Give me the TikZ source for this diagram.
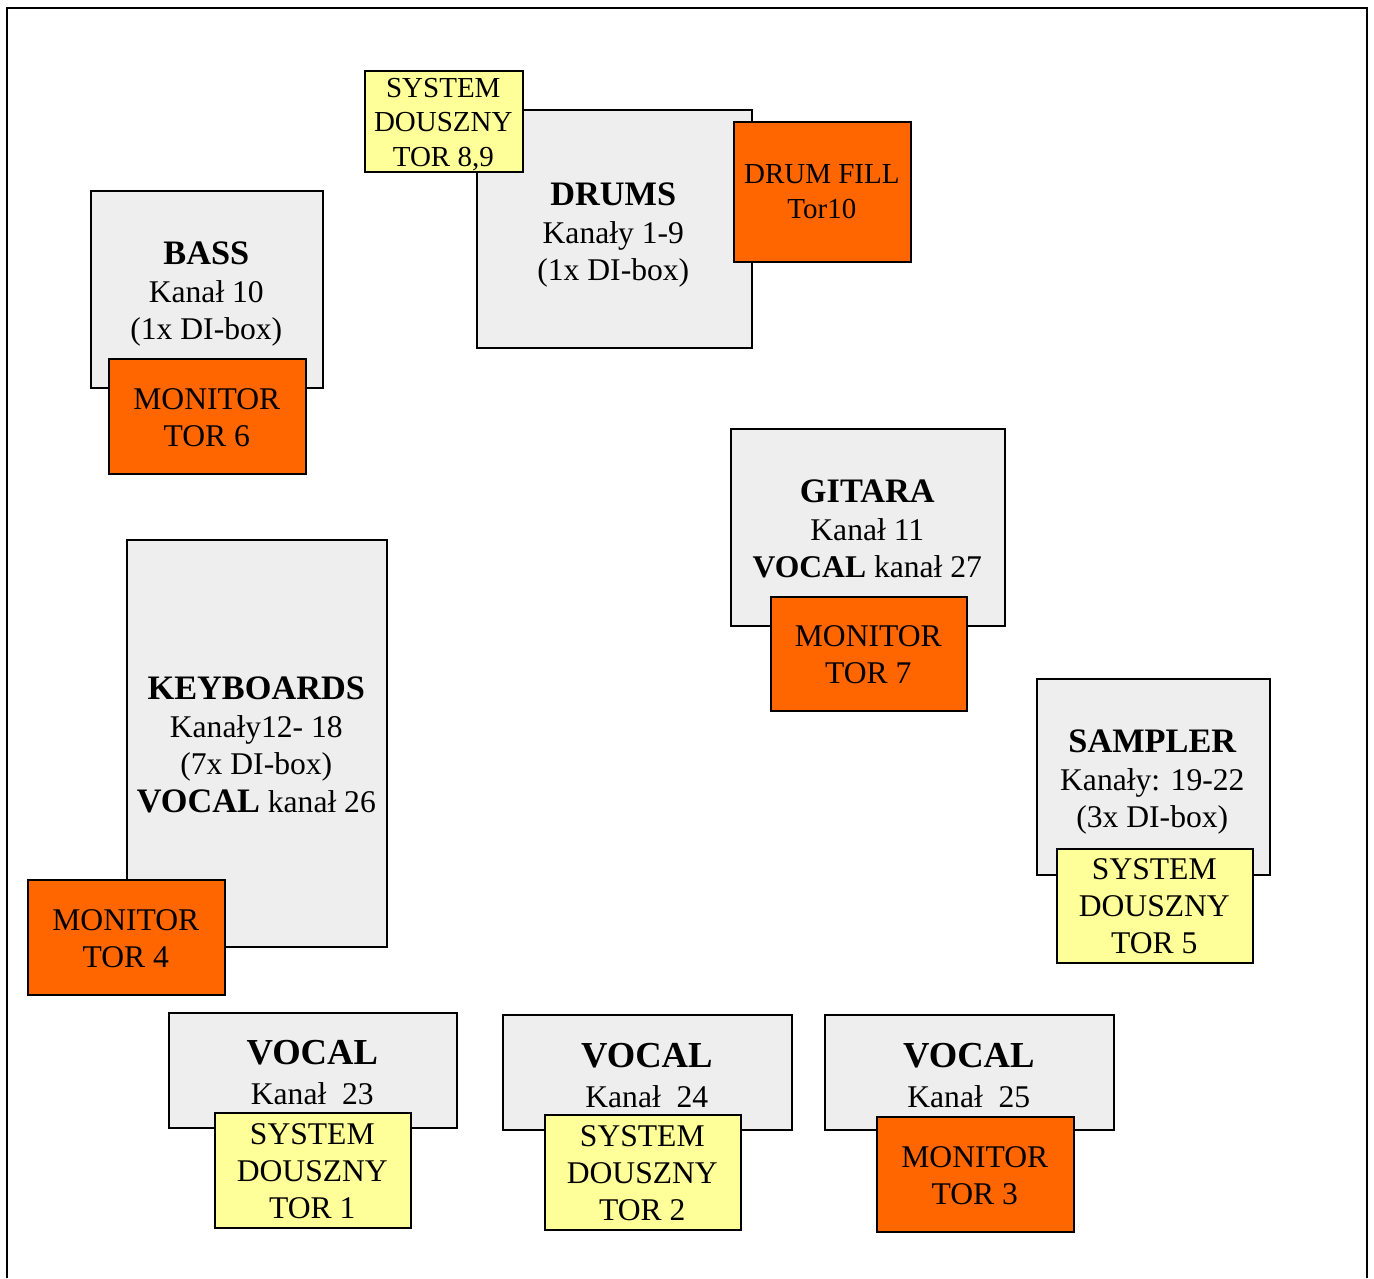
\documentclass[tikz,border=0pt]{standalone}
\usepackage{fontspec}
\setmainfont{Liberation Serif}
\definecolor{boxgrey}{HTML}{EEEEEE}
\definecolor{boxorange}{HTML}{FF6600}
\definecolor{boxyellow}{HTML}{FFFF99}
\newcommand\boxtitle[1]{{\fontsize{34.3}{37.5}\selectfont\bfseries #1}}
\newcommand\voctitle[1]{{\fontsize{36.6}{40}\selectfont\bfseries #1}}
\tikzset{
  box/.style={draw=black, line width=1.5pt, inner sep=0pt, anchor=north west},
  greybox/.style={box, fill=boxgrey},
  orangebox/.style={box, fill=boxorange},
  yellowbox/.style={box, fill=boxyellow},
  txt/.style={align=center, inner sep=0pt, font=\fontsize{31.6}{37.5}\selectfont},
  tagtxt/.style={align=center, inner sep=0pt, font=\fontsize{31.6}{37}\selectfont},
  smalltxt/.style={align=center, inner sep=0pt, font=\fontsize{29}{34.5}\selectfont},
  voctxt/.style={align=center, inner sep=0pt, font=\fontsize{31.6}{40}\selectfont},
}
\begin{document}
\begin{tikzpicture}[x=1pt,y=-1pt]
\useasboundingbox (0,0) rectangle (1374,1278);
% outer frame
\coordinate (fbl) at (7,1278);
\coordinate (ftl) at (7,8);
\coordinate (ftr) at (1367,8);
\coordinate (fbr) at (1367,1278);
\draw[line width=1.5pt] (fbl) -- (ftl) -- (ftr) -- (fbr);

\begin{scope}[shift={(-0.7,-0.7)}]
% BASS
\node[greybox, minimum width=232, minimum height=197] (bass) at (91,191) {};
\node[txt] (basst) at (207,295) {\boxtitle{BASS}\\Kanał 10\\(1x DI-box)};
\node[orangebox, minimum width=197, minimum height=115] (mon6) at (109,359) {};
\node[tagtxt] (mon6t) at (207.5,418) {MONITOR\\TOR 6};

% DRUMS
\node[greybox, minimum width=275, minimum height=238] (drums) at (477,110) {};
\node[txt] (drumst) at (614,236) {\boxtitle{DRUMS}\\Kanały 1-9\\(1x DI-box)};
\node[yellowbox, minimum width=158, minimum height=101] (sys89) at (365,71) {};
\node[smalltxt] (sys89t) at (444,125) {SYSTEM\\DOUSZNY\\TOR 8,9};
\node[orangebox, minimum width=177, minimum height=140] (drumfill) at (734,122) {};
\node[smalltxt] (drumfillt) at (822.5,192.5) {DRUM FILL\\Tor10};

% GITARA
\node[greybox, minimum width=274, minimum height=197] (gitara) at (731,429) {};
\node[txt] (gitarat) at (868,530) {\boxtitle{GITARA}\\Kanał 11\\\textbf{VOCAL} kanał 27};
\node[orangebox, minimum width=196, minimum height=114] (mon7) at (771,597) {};
\node[tagtxt] (mon7t) at (869,655) {MONITOR\\TOR 7};

% SAMPLER
\node[greybox, minimum width=233, minimum height=196] (sampler) at (1037,679) {};
\node[txt] (samplert) at (1153,783) {\boxtitle{SAMPLER}\\Kanały: 19-22\\(3x DI-box)};
\node[yellowbox, minimum width=196, minimum height=114] (sys5) at (1057,849) {};
\node[tagtxt] (sys5t) at (1155,906.5) {SYSTEM\\DOUSZNY\\TOR 5};

% KEYBOARDS
\node[greybox, minimum width=260, minimum height=407] (keys) at (127,540) {};
\node[txt] (keyst) at (257,745.5) {\boxtitle{KEYBOARDS}\\Kanały12- 18\\(7x DI-box)\\\boxtitle{VOCAL} kanał 26};
\node[orangebox, minimum width=197, minimum height=115] (mon4) at (28,880) {};
\node[tagtxt] (mon4t) at (126.5,939) {MONITOR\\TOR 4};

% VOCAL 23
\node[greybox, minimum width=288, minimum height=115] (voc23) at (169,1013) {};
\node[voctxt] (voc23t) at (313,1073) {\voctitle{VOCAL}\\Kanał\ \ 23};
\node[yellowbox, minimum width=196, minimum height=115] (sys1) at (215,1113) {};
\node[tagtxt] (sys1t) at (313,1171.5) {SYSTEM\\DOUSZNY\\TOR 1};

% VOCAL 24
\node[greybox, minimum width=289, minimum height=115] (voc24) at (503,1015) {};
\node[voctxt] (voc24t) at (647.5,1076) {\voctitle{VOCAL}\\Kanał\ \ 24};
\node[yellowbox, minimum width=196, minimum height=115] (sys2) at (545,1115) {};
\node[tagtxt] (sys2t) at (643,1173.5) {SYSTEM\\DOUSZNY\\TOR 2};

% VOCAL 25
\node[greybox, minimum width=289, minimum height=115] (voc25) at (825,1015) {};
\node[voctxt] (voc25t) at (969.5,1076) {\voctitle{VOCAL}\\Kanał\ \ 25};
\node[orangebox, minimum width=197, minimum height=115] (mon3) at (877,1117) {};
\node[tagtxt] (mon3t) at (975.5,1176) {MONITOR\\TOR 3};
\end{scope}
\end{tikzpicture}
\end{document}
